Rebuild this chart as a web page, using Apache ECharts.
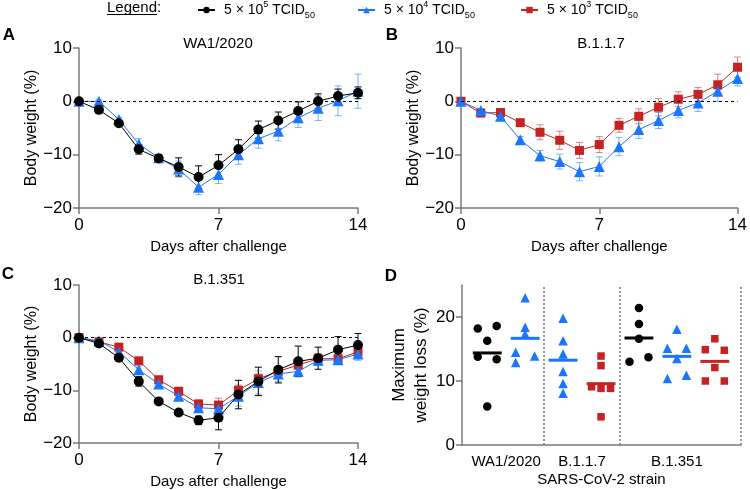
<!DOCTYPE html>
<html><head><meta charset="utf-8">
<script src="https://cdn.jsdelivr.net/npm/echarts@6/dist/echarts.min.js"></script>
<style>html,body{margin:0;padding:0;background:#fff}#c{width:750px;height:490px}</style>
</head><body><div id="c"></div>
<script>
// ---------------- DATA ----------------
const days = [0,1,2,3,4,5,6,7,8,9,10,11,12,13,14];
const doseNames = ['5 × 10⁵ TCID₅₀', '5 × 10⁴ TCID₅₀', '5 × 10³ TCID₅₀'];
const doseExp = ['5', '4', '3'];
const panelTitles = ['WA1/2020', 'B.1.1.7', 'B.1.351'];
const xTicks = [0, 7, 14];
const yTicks = [-20, -10, 0, 10];

// Panel A (WA1/2020)
const aHigh   = [0,-1.6,-4.1,-9.0,-10.7,-12.3,-14.2,-12.0,-9.0,-5.3,-3.6,-1.8,0,1.0,1.6];
const aHighSD = [0.3,0.4,0.4,0.9,0.7,1.7,2.1,2.0,1.8,1.6,1.6,1.7,1.4,1.3,1.1];
const aMid    = [0,0,-3.4,-8.0,-10.6,-12.7,-16.1,-13.7,-10.0,-7.0,-5.6,-3.1,-1.3,0.1,1.9];
const aMidSD  = [0.3,0.3,0.4,1.0,0.7,1.5,1.4,1.7,1.8,1.8,1.8,1.8,2.3,2.8,3.2];
// Panel B (B.1.1.7)
const bMid    = [0,-1.7,-2.8,-7.2,-10.2,-11.3,-13.2,-12.2,-8.5,-5.3,-3.6,-1.7,-0.3,1.9,4.3];
const bMidSD  = [0.2,0.3,0.4,0.6,1.0,1.4,1.7,1.8,1.7,1.7,1.5,1.4,1.6,1.9,1.4];
const bLow    = [0,-2.2,-2.1,-4.0,-5.8,-7.3,-9.2,-8.1,-4.5,-2.8,-1.1,0.4,1.3,3.1,6.4];
const bLowSD  = [0.3,0.4,0.4,0.6,1.4,1.7,1.5,1.5,1.3,1.4,1.6,1.4,1.3,2.0,1.9];
// Panel C (B.1.351)
const cHigh   = [0,-1.1,-3.8,-8.3,-12.1,-14.2,-15.7,-15.2,-10.8,-8.3,-6.1,-4.5,-3.9,-2.3,-1.4];
const cHighSD = [0.3,0.5,0.5,0.9,0.4,0.3,0.8,2.3,2.7,2.7,2.5,2.9,2.1,2.5,2.2];
const cMid    = [0,-0.6,-2.7,-6.1,-8.8,-11.1,-13.3,-13.5,-11.1,-8.5,-6.9,-6.4,-4.3,-4.2,-3.1];
const cMidSD  = [0.3,0.4,0.5,0.7,0.8,0.8,0.9,0.9,1.9,2.2,1.4,0.9,1.0,0.9,1.2];
const cLow    = [0,-0.8,-1.8,-4.4,-8.0,-10.2,-12.6,-12.8,-10.0,-7.8,-6.4,-5.2,-4.0,-4.0,-2.7];
const cLowSD  = [0.3,0.4,0.4,0.5,0.7,0.8,0.8,1.3,1.0,0.9,0.8,0.8,1.0,0.9,1.2];
// Panel D (maximum weight loss, %)
const dGroups = ['WA1/2020', 'B.1.1.7', 'B.1.351'];
const dWA1High   = [18.2,18.6,16.3,13.8,13.4,6.0];
const dWA1Mid    = [23.0,18.4,17.3,14.5,13.9,12.9];
const dB117Mid   = [19.8,16.3,14.2,11.5,9.6,8.1];
const dB117Low   = [13.9,12.4,9.1,8.85,8.85,4.4];
const dB1351High = [21.4,18.9,16.6,13.0,13.7];
const dB1351Mid  = [18.1,15.1,15.1,13.5,10.4,10.9];
const dB1351Low  = [16.6,14.9,14.8,12.1,10.0,10.0];
const dYTicks = [0, 10, 20];

// ---------------- STYLE / LAYOUT ----------------
const FONT = "'Liberation Sans', Arial, Helvetica, sans-serif";
const COL = ['#000000', '#1a75ff', '#c62222'];
const ERR = ['#000000', 'rgba(26,117,255,0.55)', 'rgba(198,34,34,0.55)'];
const SYM = ['circle', 'triangle', 'rect'];
const SYMSIZE = [10, 11, 9];
const AX = '#7a7a7a';
// jitter pattern for dot plot (layout only)
const jitter = [
  [-1,1,0,-1,1,0], [0,0,0,-1,1,-1],
  [0,0,0,0,0,0], [0,0,-1,0,1,0],
  [0,0,0,-1,1], [0,-1,1,0,-1,1], [0,-1,1,0,-1,1]
];
const JIT = 0.25;

const grids = [
  {left:79, top:48, width:279, height:160},
  {left:461, top:48, width:279, height:160},
  {left:79, top:285, width:279, height:159},
  {left:462, top:285, width:279, height:160}
];

const minus = v => v < 0 ? '\u2212' + Math.abs(v) : String(v);

function errSeries(gi, vals, sds, di) {
  return {
    type: 'custom', xAxisIndex: gi, yAxisIndex: gi, z: 2, silent: true,
    encode: {x: 0, y: [1, 2]},
    data: days.map((d, i) => [d, vals[i] - sds[i], vals[i] + sds[i]]),
    renderItem: function (params, api) {
      const x = api.value(0);
      const a = api.coord([x, api.value(2)]);
      const b = api.coord([x, api.value(1)]);
      const cw = 3.5;
      const st = {stroke: ERR[di], lineWidth: 1, fill: null};
      return {type: 'group', children: [
        {type: 'line', shape: {x1: a[0], y1: a[1], x2: b[0], y2: b[1]}, style: st},
        {type: 'line', shape: {x1: a[0]-cw, y1: a[1], x2: a[0]+cw, y2: a[1]}, style: st},
        {type: 'line', shape: {x1: b[0]-cw, y1: b[1], x2: b[0]+cw, y2: b[1]}, style: st}
      ]};
    }
  };
}
function lineSeries(gi, vals, di, withZero) {
  const s = {
    type: 'line', name: doseNames[di], xAxisIndex: gi, yAxisIndex: gi,
    data: days.map((d, i) => [d, vals[i]]),
    symbol: SYM[di], symbolSize: SYMSIZE[di], showAllSymbol: true,
    itemStyle: {color: COL[di], opacity: 1},
    lineStyle: {color: COL[di], width: 1},
    z: 3 + (di === 0 ? 2 : (di === 1 ? 1 : 0)), animation: false
  };
  if (withZero) {
    s.markLine = {silent: true, symbol: 'none', label: {show: false},
      lineStyle: {color: '#000', type: [3, 3], width: 1}, data: [{yAxis: 0}], animation: false};
  }
  return s;
}

// Panel D layout: columns per group
const dSets = [
  {vals: dWA1High, di: 0}, {vals: dWA1Mid, di: 1},
  {vals: dB117Mid, di: 1}, {vals: dB117Low, di: 2},
  {vals: dB1351High, di: 0}, {vals: dB1351Mid, di: 1}, {vals: dB1351Low, di: 2}
];
const groupCols = [2, 2, 3];
const groupCenters = [];
const groupEdges = [];
{
  let c = 1;
  groupCols.forEach(n => { groupCenters.push(c + (n - 1) / 2); c += n; groupEdges.push(c - 0.5); });
}
const dMin = 0.335, dMax = 7.69;
groupEdges[groupEdges.length - 1] = dMax;

const series = [];
// Panel A
series.push(errSeries(0, aMid, aMidSD, 1), errSeries(0, aHigh, aHighSD, 0));
series.push(lineSeries(0, aMid, 1, true), lineSeries(0, aHigh, 0, false));
// Panel B
series.push(errSeries(1, bLow, bLowSD, 2), errSeries(1, bMid, bMidSD, 1));
series.push(lineSeries(1, bLow, 2, true), lineSeries(1, bMid, 1, false));
// Panel C
series.push(errSeries(2, cLow, cLowSD, 2), errSeries(2, cMid, cMidSD, 1), errSeries(2, cHigh, cHighSD, 0));
series.push(lineSeries(2, cLow, 2, true), lineSeries(2, cMid, 1, false), lineSeries(2, cHigh, 0, false));
// Panel D
dSets.forEach((s, k) => {
  const col = k + 1;
  series.push({
    type: 'scatter', name: 'D' + k, xAxisIndex: 3, yAxisIndex: 3,
    symbol: SYM[s.di], symbolSize: [8.5, 9.5, 7.5][s.di],
    itemStyle: {color: COL[s.di], opacity: 1},
    data: s.vals.map((v, i) => [col + jitter[k][i] * JIT, v]),
    z: 3, animation: false,
    markLine: k === 0 ? {silent: true, symbol: 'none', label: {show: false},
      lineStyle: {color: '#777', type: [2, 2], width: 1.5},
      data: groupEdges.map(e => ({xAxis: e})), animation: false} : undefined
  });
  const mean = s.vals.reduce((a, b) => a + b, 0) / s.vals.length;
  series.push({
    type: 'custom', xAxisIndex: 3, yAxisIndex: 3, z: 4, silent: true,
    data: [[col, mean]],
    renderItem: function (params, api) {
      const c = api.coord([api.value(0), api.value(1)]);
      const w = api.size([0.76, 0])[0];
      return {type: 'line', shape: {x1: c[0] - w/2, y1: c[1], x2: c[0] + w/2, y2: c[1]},
        style: {stroke: COL[s.di], lineWidth: 3}};
    }
  });
});

const tickLabel = {fontSize: 17, color: '#000', fontFamily: FONT};
const axisLineSt = {lineStyle: {color: AX, width: 1.5}};
const xAxes = [0, 1, 2].map(gi => ({
  gridIndex: gi, type: 'value', min: 0, max: 14, interval: 7,
  axisLine: {onZero: false, ...axisLineSt},
  axisTick: {length: 6, lineStyle: {color: AX, width: 1.5}},
  axisLabel: {...tickLabel, margin: 9},
  splitLine: {show: false},
  name: 'Days after challenge', nameLocation: 'middle', nameGap: 31,
  nameTextStyle: {fontSize: 15, color: '#000', fontFamily: FONT}
}));
xAxes.push({
  gridIndex: 3, type: 'value', min: dMin, max: dMax,
  axisLine: {onZero: false, ...axisLineSt},
  axisTick: {show: false},
  axisLabel: {...tickLabel, fontSize: 15, margin: 9, customValues: groupCenters,
    formatter: v => { const i = groupCenters.findIndex(c => Math.abs(c - v) < 1e-6); return i >= 0 ? dGroups[i] : ''; }},
  splitLine: {show: false},
  name: 'SARS-CoV-2 strain', nameLocation: 'middle', nameGap: 27,
  nameTextStyle: {fontSize: 15, color: '#000', fontFamily: FONT}
});
const yAxes = [0, 1, 2].map(gi => ({
  gridIndex: gi, type: 'value', min: yTicks[0], max: yTicks[yTicks.length-1], interval: 10,
  axisLine: {show: true, onZero: false, ...axisLineSt},
  axisTick: {show: true, length: 6, lineStyle: {color: AX, width: 1.5}},
  axisLabel: {...tickLabel, margin: 7, formatter: minus},
  splitLine: {show: false},
  name: 'Body weight (%)', nameLocation: 'middle', nameGap: 38, nameRotate: 90,
  nameTextStyle: {fontSize: 16, color: '#000', fontFamily: FONT}
}));
yAxes.push({
  gridIndex: 3, type: 'value', min: dYTicks[0], max: 25, interval: 10,
  axisLine: {show: true, onZero: false, ...axisLineSt},
  axisTick: {show: true, length: 6, lineStyle: {color: AX, width: 1.5}, customValues: dYTicks},
  axisLabel: {...tickLabel, fontSize: 17, margin: 7, customValues: dYTicks},
  splitLine: {show: false},
  name: 'Maximum\nweight loss (%)', nameLocation: 'middle', nameGap: 29, nameRotate: 90,
  nameTextStyle: {fontSize: 17, lineHeight: 22, color: '#000', fontFamily: FONT}
});

const legendRich = {
  f: {fontSize: 14, fontFamily: FONT, color: '#000', lineHeight: 20, padding: [0, 0, 0, 4]},
  b: {fontSize: 14, fontFamily: FONT, color: '#000', lineHeight: 20},
  sup: {fontSize: 9, fontFamily: FONT, color: '#000', lineHeight: 11, verticalAlign: 'top'},
  sub: {fontSize: 9, fontFamily: FONT, color: '#000', lineHeight: 11, verticalAlign: 'bottom'}
};
const legendLeft = [197, 357, 520];
const legends = [0, 1, 2].map(i => ({
  data: [doseNames[i]], left: legendLeft[i], top: 0, padding: 0,
  itemWidth: 17, itemHeight: 8, selectedMode: false,
  formatter: () => '{f|5 × 10}{sup|' + doseExp[i] + '}{b| TCID}{sub|50}',
  textStyle: {rich: legendRich}
}));

const txt = (t, x, y, size, bold, align) => ({
  type: 'text', x: x, y: y, silent: true,
  style: {text: t, fill: '#000', font: (bold ? 'bold ' : '') + size + 'px ' + FONT,
    align: align || 'center', verticalAlign: 'middle', textAlign: align || 'center', textVerticalAlign: 'middle'}
});
const graphics = [
  txt('Legend:', 107, 8, 15, false, 'left'),
  {type: 'line', silent: true, shape: {x1: 107, y1: 14.5, x2: 157, y2: 14.5}, style: {stroke: '#000', lineWidth: 1}},
  txt('A', 9, 35, 17, true), txt('B', 392, 35, 17, true),
  txt('C', 8, 274, 17, true), txt('D', 391, 276, 17, true),
  txt(panelTitles[0], 218, 44, 15, false), txt(panelTitles[1], 601, 44, 15, false),
  txt(panelTitles[2], 219, 280, 15, false)
];

const chart = echarts.init(document.getElementById('c'), null, {renderer: 'canvas'});
chart.setOption({
  animation: false,
  backgroundColor: '#fff',
  textStyle: {fontFamily: FONT},
  grid: grids,
  xAxis: xAxes,
  yAxis: yAxes,
  legend: legends,
  graphic: graphics,
  series: series
});
</script></body></html>
